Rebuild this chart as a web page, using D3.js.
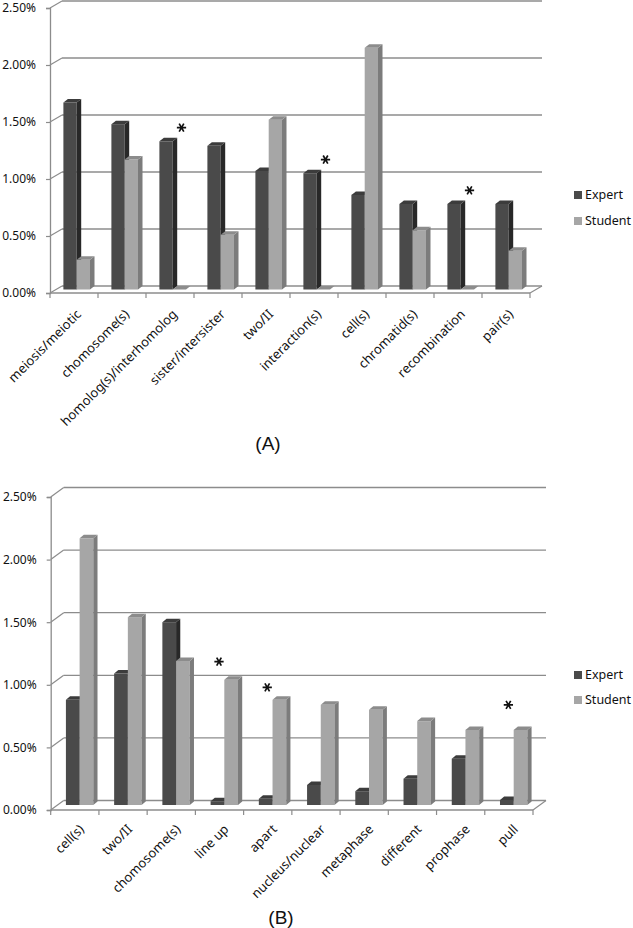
<!DOCTYPE html>
<html><head><meta charset="utf-8">
<script src="https://cdn.jsdelivr.net/npm/d3@7"></script>
<style>body{margin:0;background:#fff}svg{display:block}</style>
</head><body><svg id="c" width="633" height="928"></svg>
<script>
// ---------- data ----------
const series = ["Expert", "Student"];
const yTicks = [0, 0.5, 1.0, 1.5, 2.0, 2.5];

const categoriesA = ["meiosis/meiotic","chomosome(s)","homolog(s)/interhomolog","sister/intersister","two/II","interaction(s)","cell(s)","chromatid(s)","recombination","pair(s)"];
const expertA  = [1.64, 1.45, 1.30, 1.26, 1.04, 1.02, 0.83, 0.75, 0.75, 0.75];
const studentA = [0.26, 1.14, 0.00, 0.48, 1.49, 0.00, 2.12, 0.52, 0.00, 0.34];
const starsA = [{cat:"homolog(s)/interhomolog", level:1.42},{cat:"interaction(s)", level:1.14},{cat:"recombination", level:0.87}];

const categoriesB = ["cell(s)","two/II","chomosome(s)","line up","apart","nucleus/nuclear","metaphase","different","prophase","pull"];
const expertB  = [0.84, 1.05, 1.46, 0.03, 0.05, 0.16, 0.11, 0.21, 0.37, 0.04];
const studentB = [2.13, 1.50, 1.15, 1.00, 0.84, 0.80, 0.76, 0.67, 0.60, 0.60];
const starsB = [{cat:"line up", level:1.145},{cat:"apart", level:0.94},{cat:"pull", level:0.80}];

const panelLabels = ["(A)", "(B)"];

// ---------- styles ----------
const col = {
  Expert:  {front:"#4a4a4a", side:"#282828", top:"#3c3c3c"},
  Student: {front:"#a6a6a6", side:"#7c7c7c", top:"#8c8c8c"}
};
const gridCol = "#8c8c8c";
const svg = d3.select("#c");
const FONT = "'Noto Sans', sans-serif";

function drawChart(cfg) {
  const g = svg.append("g");
  const y = d3.scaleLinear().domain([0, 2.5]).range([cfg.y0, cfg.yTop]);
  const x = d3.scaleBand().domain(cfg.cats).range([cfg.x0, cfg.x1]).paddingInner(0).paddingOuter(0);
  const bw = x.bandwidth();
  const {dx, dy} = cfg;

  // back wall gridlines
  g.selectAll("line.grid").data(yTicks).join("line")
    .attr("x1", cfg.x0 + dx).attr("x2", cfg.x1 + dx)
    .attr("y1", d => y(d) + dy).attr("y2", d => y(d) + dy)
    .attr("stroke", gridCol).attr("stroke-width", 1.3);
  // side wall diagonals
  g.selectAll("line.diag").data(yTicks).join("line")
    .attr("x1", cfg.x0).attr("x2", cfg.x0 + dx)
    .attr("y1", d => y(d)).attr("y2", d => y(d) + dy)
    .attr("stroke", gridCol).attr("stroke-width", 1.2);
  // floor front edge and right edge
  g.append("line").attr("x1", cfg.x0).attr("x2", cfg.x1).attr("y1", y(0)).attr("y2", y(0))
    .attr("stroke", gridCol).attr("stroke-width", 1.3);
  g.append("line").attr("x1", cfg.x1).attr("x2", cfg.x1 + dx).attr("y1", y(0)).attr("y2", y(0) + dy)
    .attr("stroke", gridCol).attr("stroke-width", 1.2);
  // category boundary ticks
  const bounds = cfg.cats.map(c => x(c)).concat([cfg.x1]);
  g.selectAll("line.xt").data(bounds).join("line")
    .attr("x1", d => d).attr("x2", d => d).attr("y1", y(0)).attr("y2", y(0) + 5)
    .attr("stroke", gridCol).attr("stroke-width", 1.2);

  // y axis
  const ax = g.append("g").attr("transform", `translate(${cfg.x0},0)`)
    .call(d3.axisLeft(y).tickValues(yTicks).tickSize(4).tickPadding(10)
      .tickFormat(d => d.toFixed(2) + "%"));
  ax.select(".domain").attr("stroke", gridCol).attr("stroke-width", 1.3);
  ax.selectAll(".tick line").attr("stroke", gridCol).attr("stroke-width", 1.2);
  ax.selectAll(".tick text").attr("font-family", FONT).attr("font-size", 12).attr("fill", "#111");

  // bars
  const rows = [];
  cfg.cats.forEach((c, i) => {
    rows.push({cat:c, s:"Expert", v:cfg.exp[i], k:0});
    rows.push({cat:c, s:"Student", v:cfg.stu[i], k:1});
  });
  const bars = g.selectAll("g.bar").data(rows).join("g");
  bars.each(function(d) {
    const gb = d3.select(this);
    const xc = x(d.cat) + bw / 2 + cfg.barOff;
    const xl = d.k === 0 ? xc - cfg.barW : xc;
    const xr = xl + cfg.barW;
    const yt = y(d.v) + cfg.barDy;
    const yb = y(0) + cfg.barDy;
    const ex = cfg.depthX, ey = cfg.depthY;
    const c = col[d.s];
    if (yb - yt > 0.3) {
      gb.append("rect").attr("x", xl).attr("y", yt).attr("width", cfg.barW).attr("height", yb - yt).attr("fill", c.front);
      gb.append("path").attr("d", `M${xr},${yt}L${xr+ex},${yt-ey}L${xr+ex},${yb-ey}L${xr},${yb}Z`).attr("fill", c.side);
    }
    gb.append("path").attr("d", `M${xl},${yt}L${xl+ex},${yt-ey}L${xr+ex},${yt-ey}L${xr},${yt}Z`).attr("fill", c.top);
  });

  // stars
  const star = d3.symbol().type(d3.symbolAsterisk).size(60);
  g.selectAll("path.star").data(cfg.stars).join("path")
    .attr("d", star)
    .attr("transform", d => `translate(${x(d.cat) + bw/2 + cfg.starDx},${y(d.level) + cfg.barDy}) rotate(90)`)
    .attr("fill", "none").attr("stroke", "#111").attr("stroke-width", 1.7);

  // category labels
  g.selectAll("text.cl").data(cfg.cats).join("text")
    .attr("transform", d => `translate(${x(d) + bw/2 + cfg.lab[0]},${y(0) + cfg.lab[1]}) rotate(-45)`)
    .attr("text-anchor", "end")
    .attr("font-family", FONT).attr("font-size", 13).attr("fill", "#111")
    .text(d => d);

  // legend
  const lg = g.selectAll("g.lg").data(series).join("g")
    .attr("transform", (d, i) => `translate(574,${cfg.legY + i * cfg.legStep})`);
  lg.append("rect").attr("x", 0).attr("y", -4).attr("width", 8).attr("height", 8)
    .attr("fill", d => col[d].front);
  lg.append("text").attr("x", 11).attr("y", 0).attr("dy", "0.35em")
    .attr("font-family", FONT).attr("font-size", 12.5).attr("fill", "#111").text(d => d);

  // panel label
  g.append("text").attr("x", cfg.panel[0]).attr("y", cfg.panel[1]).attr("dy", "0.35em")
    .attr("text-anchor", "middle").attr("font-family", "'Liberation Sans', Arial, sans-serif")
    .attr("font-size", 19).attr("fill", "#111").text(cfg.panelText);
}

drawChart({cats:categoriesA, exp:expertA, stu:studentA, stars:starsA,
  x0:50, x1:530, y0:293, yTop:8, dx:12, dy:-7, barDy:-3.5, barOff:2.7, barW:13.3,
  depthX:4.5, depthY:3.5, starDx:11.5, lab:[8,22], legY:195, legStep:26,
  panel:[268,443], panelText:panelLabels[0]});

drawChart({cats:categoriesB, exp:expertB, stu:studentB, stars:starsB,
  x0:50.7, x1:533, y0:810, yTop:497, dx:13, dy:-9.5, barDy:-5, barOff:4.8, barW:13.7,
  depthX:4.2, depthY:3.5, starDx:-0.5, lab:[10,20], legY:675, legStep:25,
  panel:[281,917], panelText:panelLabels[1]});
</script></body></html>
